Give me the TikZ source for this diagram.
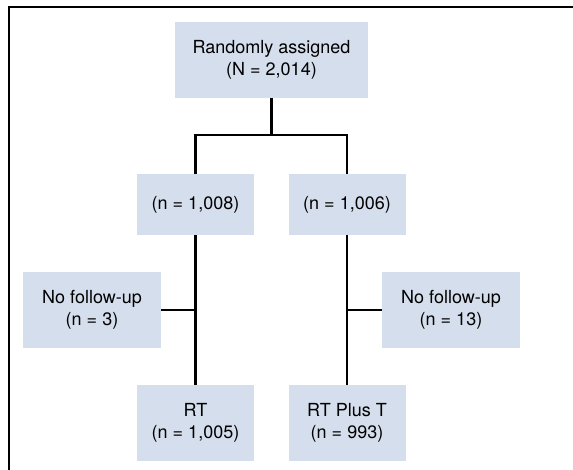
\documentclass[tikz,border=0pt]{standalone}
\usepackage{fontspec}
\setmainfont{TeX Gyre Heros}
\definecolor{boxfill}{RGB}{213,222,236}
\tikzset{
  flowbox/.style={fill=boxfill,align=center,inner sep=0pt,font=\fontsize{9pt}{11pt}\selectfont},
  flowline/.style={line width=1.2pt,black}
}

\begin{document}
\begin{tikzpicture}[x=0.5pt,y=-0.5pt]
            \useasboundingbox (0,0) rectangle (573,470);
            % frame
            \draw [line width=0.8, black] (573,7) -- (9,7) -- (9,470);
            % randomly assigned top
            \node [flowbox,minimum width=96.5pt,minimum height=38pt] (rand) at (271.5,60) {Randomly assigned\\(N = 2,014)};
            % two arms
            \node [flowbox,minimum width=58.5pt,minimum height=30.5pt] (armA) at (195.5,204.5) {(n = 1,008)};
            \node [flowbox,minimum width=58.5pt,minimum height=30.5pt] (armB) at (347,204.5) {(n = 1,006)};
            % no follow-up left and right
            \node [flowbox,minimum width=69pt,minimum height=38pt] (lostA) at (92,310) {No follow-up\\(n = 3)};
            \node [flowbox,minimum width=69pt,minimum height=38pt] (lostB) at (451,310) {No follow-up\\(n = 13)};
            % analysed bottom
            \node [flowbox,minimum width=58.5pt,minimum height=38pt] (rt) at (195.5,423) {RT\\(n = 1,005)};
            \node [flowbox,minimum width=58.5pt,minimum height=38pt] (rtt) at (347,423) {RT Plus T\\(n = 993)};
            % split lines
            \coordinate (split) at (271.5,135);
            \draw [flowline] (rand.south) -- (split);
            \draw [flowline] (armA.north) |- (split) -| (armB.north);
            % arms down
            \draw [flowline] (armA.south) -- (rt.north);
            \draw [flowline] (armB.south) -- (rtt.north);
            % side branches
            \draw [flowline] (lostA.east) -- (lostA.east -| armA.south);
            \draw [flowline] (lostB.west) -- (lostB.west -| armB.south);
         \end{tikzpicture}
\end{document}
